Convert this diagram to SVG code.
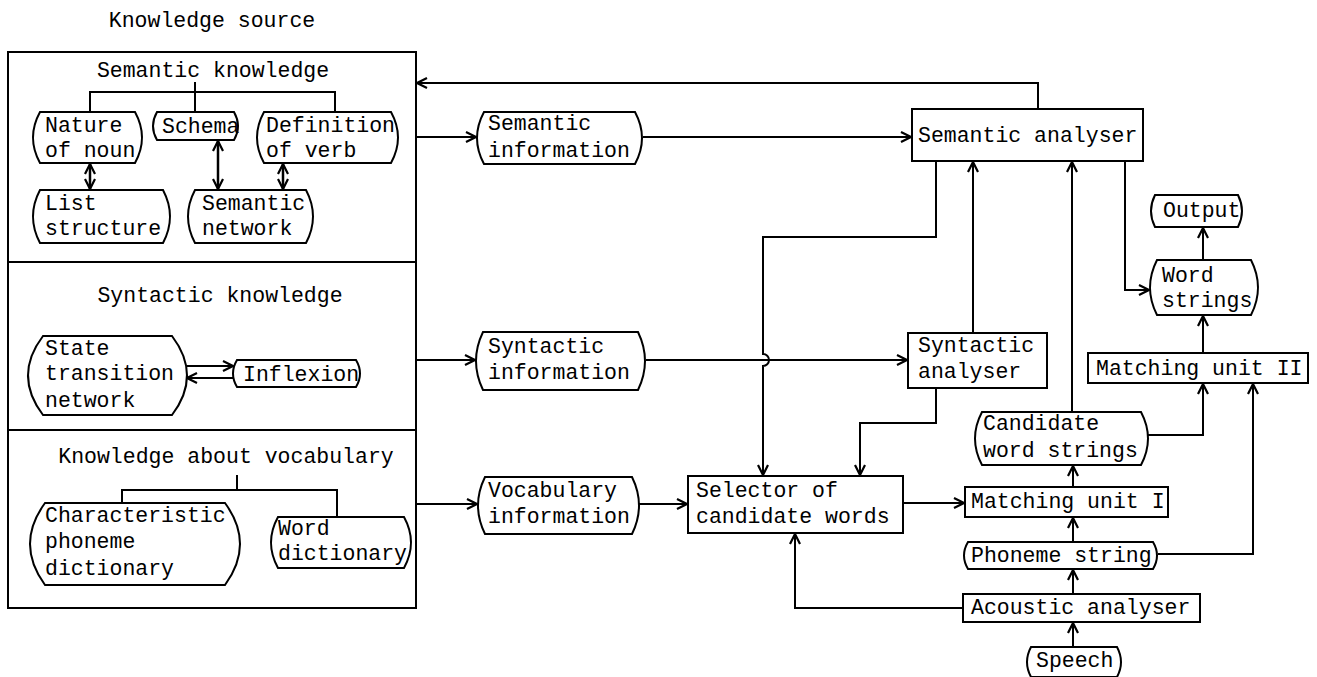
<svg xmlns="http://www.w3.org/2000/svg" width="1317" height="677" viewBox="0 0 1317 677">
  <style>
    text { font-family: "Liberation Mono", "Courier New", monospace; font-size: 21.5px; fill: #000; }
    .shape { fill: #fff; stroke: #000; stroke-width: 2; }
    .wire { fill: none; stroke: #000; stroke-width: 2; }
    .arrow { fill: none; stroke: #000; stroke-width: 2; marker-end: url(#head); }
    .both { fill: none; stroke: #000; stroke-width: 2.5; marker-start: url(#head); marker-end: url(#head); }
  </style>
  <defs>
    <marker id="head" viewBox="0 0 12 12" refX="11" refY="6" markerWidth="12" markerHeight="12" orient="auto-start-reverse" markerUnits="userSpaceOnUse">
      <path d="M1,1 L11,6 L1,11" fill="none" stroke="#000" stroke-width="2.2"/>
    </marker>
  </defs>

  <rect width="1317" height="677" fill="#fff"/>

  <!-- knowledge source panel -->
  <g id="knowledge-source">
    <text x="212" y="27" text-anchor="middle">Knowledge source</text>
    <rect x="8" y="52" width="408" height="556" class="wire"/>
    <line x1="8" y1="262" x2="416" y2="262" class="wire"/>
    <line x1="8" y1="430" x2="416" y2="430" class="wire"/>
  </g>

  <g id="semantic-knowledge">
    <text x="213" y="77" text-anchor="middle">Semantic knowledge</text>
  </g>
  <g id="nature-of-noun">
    <path class="shape" d="M40,112 H135 Q149,137.5 135,163 H40 Q26,137.5 40,112 Z"/>
    <text x="45" y="132">Nature</text>
    <text x="45" y="157">of noun</text>
  </g>
  <g id="schema">
    <path class="shape" d="M157,112 H234 Q242,126 234,140 H157 Q149,126 157,112 Z"/>
    <text x="162" y="133">Schema</text>
  </g>
  <g id="definition-of-verb">
    <path class="shape" d="M264,112 H391 Q405,137.5 391,163 H264 Q250,137.5 264,112 Z"/>
    <text x="266" y="132">Definition</text>
    <text x="266" y="157">of verb</text>
  </g>
  <g id="list-structure">
    <path class="shape" d="M40,190 H163 Q177,216.5 163,243 H40 Q26,216.5 40,190 Z"/>
    <text x="45" y="210">List</text>
    <text x="45" y="235">structure</text>
  </g>
  <g id="semantic-network">
    <path class="shape" d="M195,190 H306 Q320,216.5 306,243 H195 Q181,216.5 195,190 Z"/>
    <text x="202" y="210">Semantic</text>
    <text x="202" y="235">network</text>
  </g>

  <g id="syntactic-knowledge">
    <text x="220" y="302" text-anchor="middle">Syntactic knowledge</text>
  </g>
  <g id="state-transition-network">
    <path class="shape" d="M43,336 H172 Q202,375.5 172,415 H43 Q13,375.5 43,336 Z"/>
    <text x="45" y="355">State</text>
    <text x="45" y="380">transition</text>
    <text x="45" y="407">network</text>
  </g>
  <g id="inflexion">
    <path class="shape" d="M237,360 H356 Q364,373.5 356,387 H237 Q229,373.5 237,360 Z"/>
    <text x="243" y="381">Inflexion</text>
  </g>

  <g id="vocabulary-knowledge">
    <text x="226" y="463" text-anchor="middle">Knowledge about vocabulary</text>
  </g>
  <g id="characteristic-phoneme-dictionary">
    <path class="shape" d="M45,503 H225 Q255,544 225,585 H45 Q15,544 45,503 Z"/>
    <text x="45" y="522">Characteristic</text>
    <text x="45" y="548">phoneme</text>
    <text x="45" y="575">dictionary</text>
  </g>
  <g id="word-dictionary">
    <path class="shape" d="M278,517 H404 Q418,542.5 404,568 H278 Q264,542.5 278,517 Z"/>
    <text x="278" y="535">Word</text>
    <text x="278" y="560">dictionary</text>
  </g>

  <!-- information stores -->
  <g id="semantic-information">
    <path class="shape" d="M484,112 H635 Q649,138 635,164 H484 Q470,138 484,112 Z"/>
    <text x="488" y="130">Semantic</text>
    <text x="488" y="157">information</text>
  </g>
  <g id="syntactic-information">
    <path class="shape" d="M483,332 H638 Q652,361 638,390 H483 Q469,361 483,332 Z"/>
    <text x="488" y="353">Syntactic</text>
    <text x="488" y="379">information</text>
  </g>
  <g id="vocabulary-information">
    <path class="shape" d="M485,477 H632 Q646,505.5 632,534 H485 Q471,505.5 485,477 Z"/>
    <text x="488" y="497">Vocabulary</text>
    <text x="488" y="523">information</text>
  </g>

  <!-- processing units -->
  <g id="selector">
    <rect class="shape" x="688" y="476" width="215" height="57"/>
    <text x="696" y="497">Selector of</text>
    <text x="696" y="523">candidate words</text>
  </g>
  <g id="semantic-analyser">
    <rect class="shape" x="912" y="109" width="231" height="52"/>
    <text x="918" y="142">Semantic analyser</text>
  </g>
  <g id="syntactic-analyser">
    <rect class="shape" x="908" y="333" width="139" height="55"/>
    <text x="918" y="352">Syntactic</text>
    <text x="918" y="378">analyser</text>
  </g>
  <g id="output">
    <path class="shape" d="M1155,195 H1238 Q1246,211 1238,227 H1155 Q1147,211 1155,195 Z"/>
    <text x="1163" y="217">Output</text>
  </g>
  <g id="word-strings">
    <path class="shape" d="M1157,260 H1251 Q1265,287.5 1251,315 H1157 Q1143,287.5 1157,260 Z"/>
    <text x="1162" y="282">Word</text>
    <text x="1162" y="307">strings</text>
  </g>
  <g id="matching-unit-2">
    <rect class="shape" x="1088" y="353" width="220" height="30"/>
    <text x="1096" y="375">Matching unit II</text>
  </g>
  <g id="candidate-word-strings">
    <path class="shape" d="M982,412 H1141 Q1155,438.5 1141,465 H982 Q968,438.5 982,412 Z"/>
    <text x="983" y="430">Candidate</text>
    <text x="983" y="457">word strings</text>
  </g>
  <g id="matching-unit-1">
    <rect class="shape" x="965" y="487" width="203" height="30"/>
    <text x="971" y="508">Matching unit I</text>
  </g>
  <g id="phoneme-string">
    <path class="shape" d="M968,542 H1153 Q1161,555.5 1153,569 H968 Q960,555.5 968,542 Z"/>
    <text x="971" y="562">Phoneme string</text>
  </g>
  <g id="acoustic-analyser">
    <rect class="shape" x="963" y="594" width="237" height="28"/>
    <text x="971" y="614">Acoustic analyser</text>
  </g>
  <g id="speech">
    <path class="shape" d="M1031,647 H1117 Q1125,662 1117,677 H1031 Q1023,662 1031,647 Z"/>
    <text x="1036" y="667">Speech</text>
  </g>

  <!-- connectors -->
  <g id="connectors">
    <!-- knowledge trees -->
    <path class="wire" d="M195,82 V112 M90,112 V92 H335 V112"/>
    <path class="wire" d="M237,475 V490 M122,503 V490 H337 V517"/>
    <line class="both" x1="90" y1="164" x2="90" y2="189"/>
    <line class="both" x1="218" y1="141" x2="218" y2="189"/>
    <line class="both" x1="283" y1="164" x2="283" y2="189"/>
    <line class="arrow" x1="187" y1="366" x2="233" y2="366"/>
    <line class="arrow" x1="233" y1="378" x2="187" y2="378"/>

    <!-- panel to information stores -->
    <line class="arrow" x1="416" y1="137" x2="476" y2="137"/>
    <line class="arrow" x1="416" y1="360" x2="475" y2="360"/>
    <line class="arrow" x1="416" y1="504" x2="477" y2="504"/>

    <!-- stores to units -->
    <line class="arrow" x1="643" y1="137" x2="911" y2="137"/>
    <line class="arrow" x1="646" y1="360" x2="907" y2="360"/>
    <line class="arrow" x1="639" y1="504" x2="687" y2="504"/>

    <!-- feedback to the knowledge panel -->
    <path class="arrow" d="M1038,109 V83 H417"/>

    <!-- semantic analyser down to selector, hopping over the syntactic line -->
    <path class="arrow" d="M936,161 V237 H763 V354 A6,6 0 0 1 763,366 V475"/>
    <!-- syntactic analyser up and down -->
    <line class="arrow" x1="973" y1="333" x2="973" y2="162"/>
    <path class="arrow" d="M936,388 V423 H860 V475"/>

    <!-- selector to matching unit I -->
    <line class="arrow" x1="903" y1="503" x2="964" y2="503"/>
    <!-- candidate word strings up to semantic analyser -->
    <line class="arrow" x1="1072" y1="412" x2="1072" y2="162"/>
    <!-- semantic analyser to word strings -->
    <path class="arrow" d="M1125,161 V290 H1149"/>
    <line class="arrow" x1="1203" y1="260" x2="1203" y2="228"/>
    <line class="arrow" x1="1203" y1="353" x2="1203" y2="316"/>
    <path class="arrow" d="M1148,435 H1203 V384"/>
    <path class="arrow" d="M1158,554 H1253 V384"/>

    <!-- acoustic chain -->
    <line class="arrow" x1="1073" y1="487" x2="1073" y2="466"/>
    <line class="arrow" x1="1073" y1="542" x2="1073" y2="518"/>
    <line class="arrow" x1="1073" y1="594" x2="1073" y2="570"/>
    <line class="arrow" x1="1073" y1="647" x2="1073" y2="623"/>
    <path class="arrow" d="M963,608 H795 V534"/>
  </g>
</svg>
